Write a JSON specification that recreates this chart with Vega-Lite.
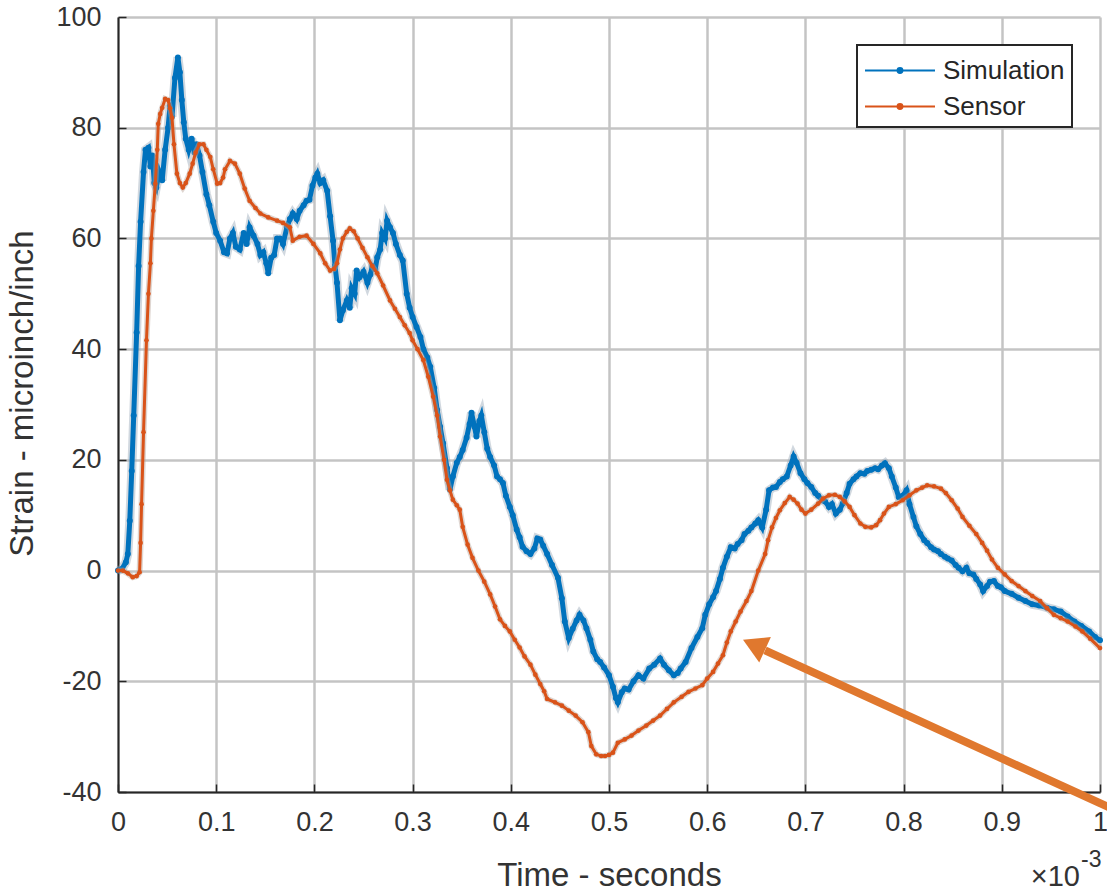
{
  "$schema": "https://vega.github.io/schema/vega-lite/v6.json",
  "width": 982,
  "height": 775,
  "autosize": {"type": "none"},
  "padding": {"left": 118, "top": 17, "right": 7, "bottom": 100},
  "background": "white",
  "config": {
    "view": {"stroke": null},
    "font": "Liberation Sans",
    "axis": {
      "grid": true,
      "gridColor": "#c4c4c4",
      "gridWidth": 2.5,
      "gridOpacity": 1,
      "domainColor": "#262626",
      "domainWidth": 2,
      "tickColor": "#262626",
      "tickWidth": 1.5,
      "tickSize": -8,
      "labelFont": "Liberation Sans",
      "labelFontSize": 27,
      "labelColor": "#333333",
      "labelFlush": false,
      "labelOverlap": false,
      "titleFont": "Liberation Sans",
      "titleFontSize": 33,
      "titleFontWeight": "normal",
      "titleColor": "#333333"
    },
    "legend": {
      "orient": "top-right",
      "offset": 28,
      "strokeColor": "#262626",
      "strokeWidth": 2,
      "fillColor": "white",
      "padding": 7,
      "labelFont": "Liberation Sans",
      "labelFontSize": 26,
      "labelColor": "#262626",
      "labelOffset": 42,
      "symbolType": "M-1,0H3M0.86,0A0.14,0.14,0,1,1,1.14,0A0.14,0.14,0,1,1,0.86,0",
      "symbolSize": 1225,
      "symbolStrokeWidth": 2,
      "rowPadding": 4
    }
  },
  "datasets": {
    "simulation": [
      {"time":0,"strain":0},{"time":0.004,"strain":0.3},{"time":0.008,"strain":1.5},{"time":0.010,"strain":3},{"time":0.012,"strain":9},{"time":0.014,"strain":18},{"time":0.016,"strain":28},{"time":0.019,"strain":43},{"time":0.021,"strain":55},{"time":0.023,"strain":63},{"time":0.026,"strain":72},{"time":0.028,"strain":76},{"time":0.031,"strain":76.4},{"time":0.033,"strain":73},{"time":0.035,"strain":75},{"time":0.037,"strain":70},{"time":0.039,"strain":69.2},{"time":0.042,"strain":72},{"time":0.045,"strain":70.5},{"time":0.048,"strain":76},{"time":0.051,"strain":80},{"time":0.053,"strain":84},{"time":0.055,"strain":82},{"time":0.058,"strain":89},{"time":0.061,"strain":92.7},{"time":0.063,"strain":90},{"time":0.065,"strain":85},{"time":0.067,"strain":81},{"time":0.069,"strain":78},{"time":0.072,"strain":76},{"time":0.075,"strain":78},{"time":0.078,"strain":75.5},{"time":0.080,"strain":77},{"time":0.083,"strain":75},{"time":0.086,"strain":72},{"time":0.090,"strain":68},{"time":0.093,"strain":66},{"time":0.097,"strain":63},{"time":0.100,"strain":61},{"time":0.104,"strain":59.6},{"time":0.108,"strain":57.5},{"time":0.111,"strain":57.3},{"time":0.114,"strain":60},{"time":0.117,"strain":61},{"time":0.120,"strain":58.5},{"time":0.124,"strain":58},{"time":0.128,"strain":61},{"time":0.131,"strain":59},{"time":0.134,"strain":62},{"time":0.138,"strain":60.5},{"time":0.142,"strain":59},{"time":0.145,"strain":57},{"time":0.148,"strain":57.5},{"time":0.151,"strain":55.5},{"time":0.153,"strain":53.7},{"time":0.156,"strain":56.5},{"time":0.159,"strain":57},{"time":0.162,"strain":60},{"time":0.165,"strain":60},{"time":0.168,"strain":59},{"time":0.172,"strain":62},{"time":0.175,"strain":63.5},{"time":0.178,"strain":64.5},{"time":0.182,"strain":63.5},{"time":0.185,"strain":65},{"time":0.189,"strain":66},{"time":0.192,"strain":66.8},{"time":0.195,"strain":67},{"time":0.198,"strain":69.5},{"time":0.201,"strain":71},{"time":0.203,"strain":71.7},{"time":0.206,"strain":70},{"time":0.209,"strain":70.5},{"time":0.213,"strain":68.6},{"time":0.216,"strain":64},{"time":0.219,"strain":59.6},{"time":0.221,"strain":55},{"time":0.223,"strain":52},{"time":0.226,"strain":45.2},{"time":0.229,"strain":47},{"time":0.233,"strain":48.8},{"time":0.236,"strain":47.5},{"time":0.238,"strain":51},{"time":0.241,"strain":50},{"time":0.243,"strain":54.2},{"time":0.246,"strain":53},{"time":0.250,"strain":54},{"time":0.254,"strain":52},{"time":0.257,"strain":53.5},{"time":0.259,"strain":55},{"time":0.262,"strain":54.5},{"time":0.264,"strain":56.6},{"time":0.267,"strain":58},{"time":0.269,"strain":61},{"time":0.272,"strain":60},{"time":0.274,"strain":63.2},{"time":0.277,"strain":62},{"time":0.280,"strain":61},{"time":0.283,"strain":59},{"time":0.287,"strain":57},{"time":0.290,"strain":56},{"time":0.294,"strain":50},{"time":0.297,"strain":47.5},{"time":0.300,"strain":45.8},{"time":0.304,"strain":44},{"time":0.308,"strain":42.2},{"time":0.311,"strain":40},{"time":0.315,"strain":38.5},{"time":0.318,"strain":36.8},{"time":0.322,"strain":33},{"time":0.325,"strain":29},{"time":0.328,"strain":26},{"time":0.331,"strain":23},{"time":0.335,"strain":18.5},{"time":0.338,"strain":14.6},{"time":0.341,"strain":17},{"time":0.345,"strain":19.5},{"time":0.348,"strain":20.5},{"time":0.351,"strain":21.8},{"time":0.355,"strain":24},{"time":0.358,"strain":26.5},{"time":0.360,"strain":28.5},{"time":0.363,"strain":26},{"time":0.365,"strain":24.2},{"time":0.368,"strain":27},{"time":0.370,"strain":28},{"time":0.373,"strain":25},{"time":0.376,"strain":22},{"time":0.379,"strain":20.5},{"time":0.383,"strain":19},{"time":0.386,"strain":17},{"time":0.389,"strain":16.5},{"time":0.392,"strain":15.8},{"time":0.395,"strain":13.5},{"time":0.399,"strain":11.5},{"time":0.402,"strain":10},{"time":0.406,"strain":7.4},{"time":0.409,"strain":6},{"time":0.412,"strain":4.3},{"time":0.416,"strain":3.5},{"time":0.420,"strain":3},{"time":0.424,"strain":4},{"time":0.427,"strain":5.8},{"time":0.430,"strain":5.6},{"time":0.433,"strain":4.5},{"time":0.437,"strain":3.0},{"time":0.442,"strain":1},{"time":0.448,"strain":-1.3},{"time":0.452,"strain":-5},{"time":0.455,"strain":-9.2},{"time":0.459,"strain":-12.2},{"time":0.463,"strain":-10.5},{"time":0.467,"strain":-9},{"time":0.470,"strain":-8},{"time":0.474,"strain":-9},{"time":0.477,"strain":-10.4},{"time":0.481,"strain":-12.5},{"time":0.484,"strain":-14.6},{"time":0.488,"strain":-16},{"time":0.491,"strain":-16.5},{"time":0.495,"strain":-17.5},{"time":0.500,"strain":-18.9},{"time":0.504,"strain":-21},{"time":0.507,"strain":-23},{"time":0.509,"strain":-23.8},{"time":0.513,"strain":-22},{"time":0.516,"strain":-21.3},{"time":0.520,"strain":-21.5},{"time":0.525,"strain":-20},{"time":0.530,"strain":-18.9},{"time":0.535,"strain":-19.5},{"time":0.541,"strain":-17.7},{"time":0.546,"strain":-17},{"time":0.552,"strain":-15.9},{"time":0.556,"strain":-17},{"time":0.561,"strain":-18},{"time":0.566,"strain":-18.9},{"time":0.570,"strain":-18.5},{"time":0.573,"strain":-17.7},{"time":0.578,"strain":-16.5},{"time":0.584,"strain":-14.0},{"time":0.590,"strain":-12},{"time":0.595,"strain":-10.4},{"time":0.598,"strain":-8},{"time":0.602,"strain":-6.1},{"time":0.606,"strain":-4.8},{"time":0.609,"strain":-3.7},{"time":0.613,"strain":-1.5},{"time":0.616,"strain":0.5},{"time":0.620,"strain":2.5},{"time":0.624,"strain":4.2},{"time":0.628,"strain":4},{"time":0.631,"strain":4.8},{"time":0.635,"strain":5.5},{"time":0.638,"strain":6.6},{"time":0.642,"strain":7.2},{"time":0.645,"strain":7.8},{"time":0.649,"strain":8.5},{"time":0.652,"strain":9.1},{"time":0.656,"strain":7.8},{"time":0.660,"strain":11},{"time":0.663,"strain":14.5},{"time":0.667,"strain":15},{"time":0.670,"strain":15.1},{"time":0.674,"strain":16},{"time":0.677,"strain":16.5},{"time":0.681,"strain":17.0},{"time":0.685,"strain":19},{"time":0.688,"strain":20.6},{"time":0.691,"strain":19.5},{"time":0.695,"strain":17.6},{"time":0.699,"strain":16.5},{"time":0.702,"strain":15.8},{"time":0.706,"strain":15.1},{"time":0.710,"strain":14},{"time":0.713,"strain":13.5},{"time":0.717,"strain":12.7},{"time":0.720,"strain":12.5},{"time":0.724,"strain":11.5},{"time":0.727,"strain":12},{"time":0.731,"strain":10.3},{"time":0.735,"strain":11},{"time":0.738,"strain":12.1},{"time":0.742,"strain":14},{"time":0.745,"strain":15.7},{"time":0.749,"strain":16.5},{"time":0.752,"strain":17},{"time":0.756,"strain":17.6},{"time":0.760,"strain":17.5},{"time":0.763,"strain":18},{"time":0.767,"strain":18.2},{"time":0.771,"strain":18.5},{"time":0.774,"strain":18.3},{"time":0.778,"strain":19},{"time":0.781,"strain":19.4},{"time":0.785,"strain":18.5},{"time":0.788,"strain":17.0},{"time":0.792,"strain":15},{"time":0.795,"strain":13.3},{"time":0.799,"strain":13.5},{"time":0.803,"strain":14.5},{"time":0.806,"strain":12},{"time":0.810,"strain":9.7},{"time":0.813,"strain":8},{"time":0.817,"strain":6.6},{"time":0.821,"strain":5.5},{"time":0.824,"strain":5},{"time":0.828,"strain":4.2},{"time":0.831,"strain":3.8},{"time":0.835,"strain":3.5},{"time":0.838,"strain":3.0},{"time":0.842,"strain":2.5},{"time":0.845,"strain":2.2},{"time":0.849,"strain":1.8},{"time":0.853,"strain":1},{"time":0.856,"strain":0.5},{"time":0.860,"strain":-0.1},{"time":0.864,"strain":0.5},{"time":0.867,"strain":-0.5},{"time":0.871,"strain":-0.7},{"time":0.874,"strain":-1.5},{"time":0.878,"strain":-2.5},{"time":0.881,"strain":-3.7},{"time":0.885,"strain":-2.8},{"time":0.888,"strain":-2},{"time":0.892,"strain":-1.9},{"time":0.896,"strain":-2.8},{"time":0.899,"strain":-3},{"time":0.903,"strain":-3.7},{"time":0.910,"strain":-4.2},{"time":0.917,"strain":-4.9},{"time":0.924,"strain":-5.5},{"time":0.931,"strain":-6.1},{"time":0.938,"strain":-6.3},{"time":0.946,"strain":-6.7},{"time":0.953,"strain":-7},{"time":0.960,"strain":-7.4},{"time":0.967,"strain":-8.3},{"time":0.974,"strain":-9.2},{"time":0.981,"strain":-10},{"time":0.989,"strain":-11.0},{"time":0.995,"strain":-12},{"time":1.0,"strain":-12.6}
    ],
    "sensor": [
      {"time":0,"strain":0},{"time":0.005,"strain":0},{"time":0.010,"strain":-0.5},{"time":0.015,"strain":-1.2},{"time":0.019,"strain":-1.0},{"time":0.022,"strain":-0.3},{"time":0.023,"strain":5},{"time":0.024,"strain":12},{"time":0.026,"strain":25},{"time":0.029,"strain":41.6},{"time":0.031,"strain":50},{"time":0.033,"strain":55.5},{"time":0.034,"strain":60},{"time":0.036,"strain":65},{"time":0.038,"strain":69.9},{"time":0.040,"strain":76},{"time":0.041,"strain":80.7},{"time":0.043,"strain":82.5},{"time":0.045,"strain":83.6},{"time":0.048,"strain":85.2},{"time":0.051,"strain":85},{"time":0.053,"strain":83.5},{"time":0.055,"strain":81.8},{"time":0.057,"strain":77},{"time":0.060,"strain":71.7},{"time":0.063,"strain":70},{"time":0.066,"strain":69.2},{"time":0.069,"strain":70},{"time":0.073,"strain":71.7},{"time":0.076,"strain":73.5},{"time":0.079,"strain":75.5},{"time":0.083,"strain":77},{"time":0.087,"strain":77},{"time":0.090,"strain":76},{"time":0.094,"strain":74.7},{"time":0.097,"strain":72.5},{"time":0.101,"strain":69.9},{"time":0.104,"strain":70},{"time":0.107,"strain":71},{"time":0.109,"strain":72.5},{"time":0.114,"strain":74},{"time":0.119,"strain":73.5},{"time":0.124,"strain":71.7},{"time":0.129,"strain":69},{"time":0.134,"strain":66.8},{"time":0.140,"strain":65.5},{"time":0.145,"strain":64.5},{"time":0.153,"strain":63.8},{"time":0.162,"strain":63.2},{"time":0.168,"strain":62.8},{"time":0.175,"strain":62},{"time":0.178,"strain":59.6},{"time":0.185,"strain":60.3},{"time":0.192,"strain":60.5},{"time":0.199,"strain":59},{"time":0.206,"strain":57.3},{"time":0.211,"strain":55.5},{"time":0.216,"strain":54.2},{"time":0.220,"strain":54.5},{"time":0.223,"strain":55.5},{"time":0.226,"strain":58},{"time":0.229,"strain":60},{"time":0.233,"strain":61.2},{"time":0.236,"strain":61.8},{"time":0.240,"strain":61.3},{"time":0.244,"strain":60},{"time":0.249,"strain":58.3},{"time":0.254,"strain":56.6},{"time":0.259,"strain":55},{"time":0.264,"strain":53.7},{"time":0.270,"strain":51.5},{"time":0.277,"strain":48.8},{"time":0.282,"strain":47.3},{"time":0.287,"strain":45.8},{"time":0.292,"strain":44.3},{"time":0.297,"strain":42.9},{"time":0.300,"strain":41.6},{"time":0.305,"strain":40},{"time":0.311,"strain":38},{"time":0.316,"strain":35},{"time":0.321,"strain":31.4},{"time":0.325,"strain":28},{"time":0.328,"strain":24.2},{"time":0.332,"strain":20},{"time":0.335,"strain":16.4},{"time":0.338,"strain":14.5},{"time":0.341,"strain":12.8},{"time":0.345,"strain":11.8},{"time":0.348,"strain":11},{"time":0.351,"strain":7.9},{"time":0.356,"strain":4.7},{"time":0.361,"strain":2.3},{"time":0.367,"strain":0},{"time":0.373,"strain":-2},{"time":0.379,"strain":-4.3},{"time":0.384,"strain":-6.5},{"time":0.389,"strain":-8.8},{"time":0.394,"strain":-10},{"time":0.399,"strain":-11},{"time":0.404,"strain":-12.5},{"time":0.409,"strain":-13.9},{"time":0.414,"strain":-15.5},{"time":0.420,"strain":-17},{"time":0.425,"strain":-18.8},{"time":0.430,"strain":-20.5},{"time":0.434,"strain":-21.8},{"time":0.437,"strain":-23.2},{"time":0.445,"strain":-23.8},{"time":0.452,"strain":-24.4},{"time":0.459,"strain":-25.3},{"time":0.466,"strain":-26.2},{"time":0.473,"strain":-27.4},{"time":0.479,"strain":-29.2},{"time":0.482,"strain":-31.7},{"time":0.487,"strain":-33.2},{"time":0.492,"strain":-33.5},{"time":0.496,"strain":-33.5},{"time":0.500,"strain":-33.3},{"time":0.504,"strain":-32.9},{"time":0.509,"strain":-31.1},{"time":0.516,"strain":-30.5},{"time":0.523,"strain":-29.8},{"time":0.530,"strain":-28.9},{"time":0.538,"strain":-28.0},{"time":0.545,"strain":-27.1},{"time":0.552,"strain":-26.2},{"time":0.559,"strain":-25},{"time":0.566,"strain":-23.8},{"time":0.574,"strain":-22.8},{"time":0.581,"strain":-21.9},{"time":0.588,"strain":-21.3},{"time":0.595,"strain":-20.7},{"time":0.600,"strain":-19.5},{"time":0.606,"strain":-18.3},{"time":0.611,"strain":-16.8},{"time":0.616,"strain":-15.3},{"time":0.620,"strain":-13},{"time":0.624,"strain":-11.0},{"time":0.629,"strain":-9.2},{"time":0.634,"strain":-7.4},{"time":0.640,"strain":-5.5},{"time":0.645,"strain":-3.7},{"time":0.652,"strain":0},{"time":0.659,"strain":3.0},{"time":0.662,"strain":5.5},{"time":0.666,"strain":7.8},{"time":0.670,"strain":9.5},{"time":0.674,"strain":10.9},{"time":0.679,"strain":12.2},{"time":0.684,"strain":13.3},{"time":0.688,"strain":12.8},{"time":0.692,"strain":12.1},{"time":0.696,"strain":11},{"time":0.700,"strain":10.3},{"time":0.706,"strain":11},{"time":0.713,"strain":12.1},{"time":0.718,"strain":13},{"time":0.724,"strain":13.6},{"time":0.730,"strain":13.7},{"time":0.735,"strain":13.3},{"time":0.740,"strain":12.5},{"time":0.745,"strain":11.5},{"time":0.750,"strain":10},{"time":0.756,"strain":8.5},{"time":0.761,"strain":7.9},{"time":0.767,"strain":7.8},{"time":0.772,"strain":8.2},{"time":0.776,"strain":9.1},{"time":0.780,"strain":10.3},{"time":0.785,"strain":11.5},{"time":0.792,"strain":12},{"time":0.799,"strain":12.7},{"time":0.806,"strain":13.6},{"time":0.813,"strain":14.5},{"time":0.819,"strain":15},{"time":0.824,"strain":15.4},{"time":0.831,"strain":15.2},{"time":0.838,"strain":14.8},{"time":0.843,"strain":14},{"time":0.849,"strain":12.7},{"time":0.855,"strain":11.2},{"time":0.860,"strain":9.7},{"time":0.867,"strain":8.1},{"time":0.874,"strain":6.6},{"time":0.880,"strain":5},{"time":0.885,"strain":3.6},{"time":0.890,"strain":2},{"time":0.896,"strain":0.5},{"time":0.903,"strain":-0.7},{"time":0.910,"strain":-1.9},{"time":0.917,"strain":-2.8},{"time":0.924,"strain":-3.7},{"time":0.931,"strain":-4.6},{"time":0.939,"strain":-5.5},{"time":0.946,"strain":-6.8},{"time":0.953,"strain":-8.0},{"time":0.960,"strain":-8.6},{"time":0.967,"strain":-9.2},{"time":0.975,"strain":-10.1},{"time":0.982,"strain":-11.0},{"time":0.990,"strain":-12.3},{"time":1.0,"strain":-14.0}
    ],
    "arrow": [{"time": 1.0305, "strain": -44.5, "time2": 0.6589, "strain2": -14.4}],
    "arrowhead": [{"time": 0.6477, "strain": -13.4}],
    "multiplier": [{"time": 0.9796, "strain": -56.9, "label": "×10"}],
    "exponent": [{"time": 0.9796, "strain": -53.6, "label": "-3"}]
  },
  "layer": [
    {
      "data": {"name": "simulation"},
      "mark": {"type": "line", "strokeWidth": 9, "color": "#9aa9b8", "opacity": 0.45},
      "encoding": {
        "x": {
          "field": "time", "type": "quantitative",
          "scale": {"domain": [0, 1], "nice": false, "zero": false},
          "axis": {"values": [0, 0.1, 0.2, 0.3, 0.4, 0.5, 0.6, 0.7, 0.8, 0.9, 1], "format": "~g", "title": "Time - seconds", "labelPadding": 25, "titlePadding": 24}
        },
        "y": {
          "field": "strain", "type": "quantitative",
          "scale": {"domain": [-40, 100], "nice": false, "zero": false},
          "axis": {"values": [-40, -20, 0, 20, 40, 60, 80, 100], "labelExpr": "datum.value < 0 ? '-' + abs(datum.value) : '' + datum.value", "title": "Strain - microinch/inch", "labelPadding": 25, "titlePadding": 16, "titleY": 376}
        }
      }
    },
    {
      "data": {"name": "simulation"},
      "mark": {"type": "line", "strokeWidth": 5, "point": {"filled": true, "size": 36}},
      "encoding": {
        "x": {"field": "time", "type": "quantitative"},
        "y": {"field": "strain", "type": "quantitative"},
        "color": {
          "datum": "Simulation", "type": "nominal",
          "scale": {"domain": ["Simulation", "Sensor"], "range": ["#0072BD", "#D95319"]},
          "legend": {"title": null}
        }
      }
    },
    {
      "data": {"name": "sensor"},
      "mark": {"type": "line", "strokeWidth": 6, "color": "#b8a49a", "opacity": 0.45},
      "encoding": {
        "x": {"field": "time", "type": "quantitative"},
        "y": {"field": "strain", "type": "quantitative"}
      }
    },
    {
      "data": {"name": "sensor"},
      "mark": {"type": "line", "strokeWidth": 3, "point": {"filled": true, "size": 22}},
      "encoding": {
        "x": {"field": "time", "type": "quantitative"},
        "y": {"field": "strain", "type": "quantitative"},
        "color": {"datum": "Sensor", "type": "nominal"}
      }
    },
    {
      "data": {"name": "arrow"},
      "mark": {"type": "rule", "color": "#E0782E", "strokeWidth": 8, "strokeCap": "butt"},
      "encoding": {
        "x": {"field": "time", "type": "quantitative"},
        "y": {"field": "strain", "type": "quantitative"},
        "x2": {"field": "time2"},
        "y2": {"field": "strain2"}
      }
    },
    {
      "data": {"name": "arrowhead"},
      "mark": {"type": "point", "shape": "triangle-up", "filled": true, "color": "#E0782E", "opacity": 1, "size": 784, "angle": 294.6},
      "encoding": {
        "x": {"field": "time", "type": "quantitative"},
        "y": {"field": "strain", "type": "quantitative"}
      }
    },
    {
      "data": {"name": "multiplier"},
      "mark": {"type": "text", "align": "right", "baseline": "alphabetic", "fontSize": 29, "color": "#333333", "font": "Liberation Sans"},
      "encoding": {
        "x": {"field": "time", "type": "quantitative"},
        "y": {"field": "strain", "type": "quantitative"},
        "text": {"field": "label"}
      }
    },
    {
      "data": {"name": "exponent"},
      "mark": {"type": "text", "align": "left", "baseline": "alphabetic", "fontSize": 23, "color": "#333333", "font": "Liberation Sans", "dx": 1},
      "encoding": {
        "x": {"field": "time", "type": "quantitative"},
        "y": {"field": "strain", "type": "quantitative"},
        "text": {"field": "label"}
      }
    }
  ]
}
